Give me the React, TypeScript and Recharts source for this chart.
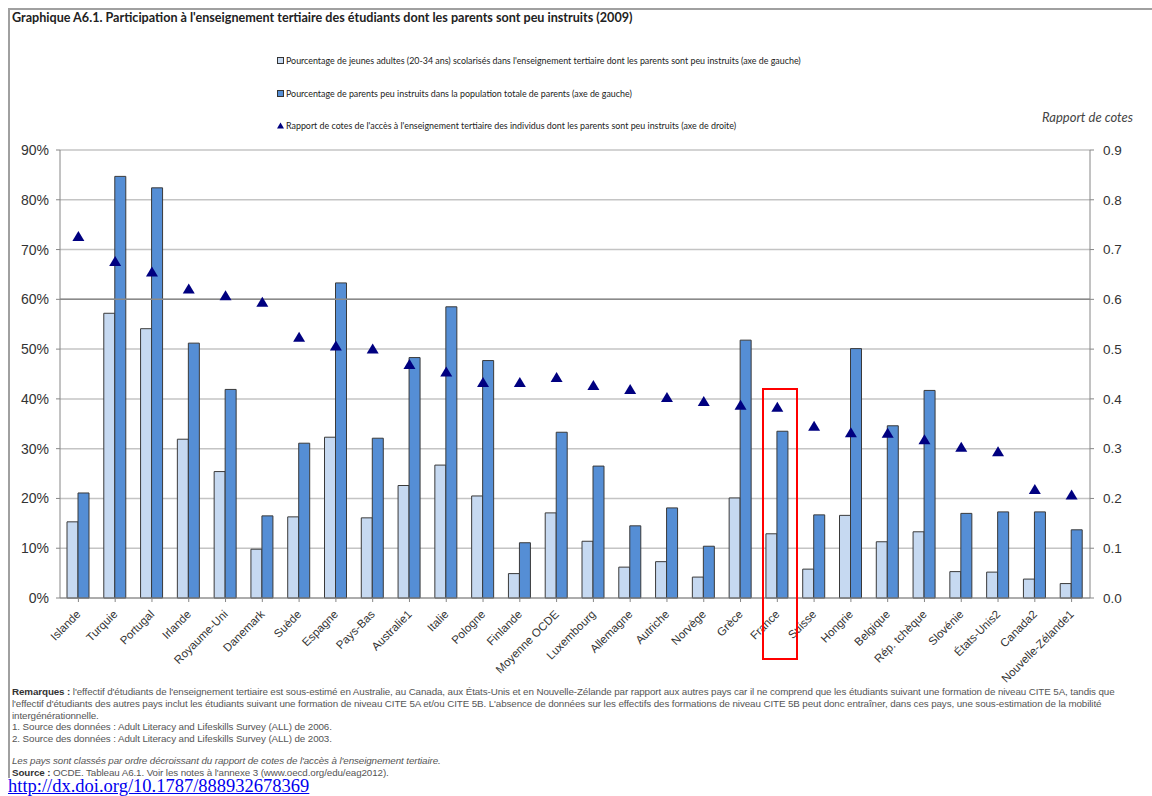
import {
  ComposedChart, Bar, Line, XAxis, YAxis,
  CartesianGrid, ReferenceLine,
} from "recharts";

// countries, ordered by decreasing odds ratio
const countries = [
  "Islande", "Turquie", "Portugal", "Irlande", "Royaume-Uni", "Danemark", "Suède",
  "Espagne", "Pays-Bas", "Australie1", "Italie", "Pologne", "Finlande", "Moyenne OCDE",
  "Luxembourg", "Allemagne", "Autriche", "Norvège", "Grèce", "France", "Suisse",
  "Hongrie", "Belgique", "Rép. tchèque", "Slovénie", "États-Unis2", "Canada2",
  "Nouvelle-Zélande1",
];

// % young adults (20-34) in tertiary education whose parents have low education
const youngAdults = [
  15.3, 57.2, 54.1, 31.9, 25.4, 9.8, 16.3, 32.3, 16.1, 22.6, 26.7, 20.5, 4.9, 17.1,
  11.4, 6.2, 7.3, 4.2, 20.1, 12.9, 5.8, 16.6, 11.3, 13.3, 5.3, 5.2, 3.8, 2.9,
];

// % parents with low education among all parents
const lowEduParents = [
  21.1, 84.7, 82.4, 51.2, 41.9, 16.5, 31.1, 63.3, 32.1, 48.3, 58.5, 47.7, 11.1, 33.3,
  26.5, 14.5, 18.1, 10.4, 51.8, 33.5, 16.7, 50.1, 34.6, 41.7, 17.0, 17.3, 17.3, 13.7,
];

// odds ratio (right axis)
const oddsRatio = [
  0.725, 0.675, 0.654, 0.62, 0.606, 0.593, 0.523, 0.505, 0.499, 0.468, 0.453, 0.432,
  0.432, 0.442, 0.426, 0.418, 0.402, 0.394, 0.386, 0.382, 0.344, 0.331, 0.33, 0.317,
  0.302, 0.293, 0.217, 0.206,
];

const leftTicks = [0, 10, 20, 30, 40, 50, 60, 70, 80, 90];
const rightTicks = [0, 0.1, 0.2, 0.3, 0.4, 0.5, 0.6, 0.7, 0.8, 0.9];

const legendLabels = [
  "Pourcentage de jeunes adultes (20-34 ans) scolarisés dans l'enseignement tertiaire dont les parents sont peu instruits (axe de gauche)",
  "Pourcentage de parents peu instruits dans la population totale de parents (axe de gauche)",
  "Rapport de cotes de l'accès à l'enseignement tertiaire des individus dont les parents sont peu instruits (axe de droite)",
];

const data = countries.map((c, i) => ({
  country: c,
  young: youngAdults[i],
  parents: lowEduParents[i],
  ratio: oddsRatio[i],
}));

const LIGHT = "#c6d9f1";
const DARK = "#558ed5";
const NAVY = "#000080";
const AXIS = "#868686";
const SANS = "'Liberation Sans', Arial, sans-serif";

const Triangle = (props: any) => {
  const { cx, cy } = props;
  if (cx == null || cy == null) return null;
  return (
    <polygon
      key={`t-${props.index}`}
      points={`${cx},${cy - 6} ${cx - 6},${cy + 4} ${cx + 6},${cy + 4}`}
      fill={NAVY}
    />
  );
};

const CountryTick = (props: any) => {
  const { x, y, payload } = props;
  return (
    <text
      x={x + 3}
      y={y + 11}
      textAnchor="end"
      fontSize={11.5}
      fontFamily={SANS}
      fill="#333"
      transform={`rotate(-45, ${x + 3}, ${y + 11})`}
    >
      {payload.value}
    </text>
  );
};

const noteLines = [
  { b: "Remarques :", t: " l'effectif d'étudiants de l'enseignement tertiaire est sous-estimé en Australie, au Canada, aux États-Unis et en Nouvelle-Zélande par rapport aux autres pays car il ne comprend que les étudiants suivant une formation de niveau CITE 5A, tandis que" },
  { b: "", t: "l'effectif d'étudiants des autres pays inclut les étudiants suivant une formation de niveau CITE 5A et/ou CITE 5B. L'absence de données sur les effectifs des formations de niveau CITE 5B peut donc entraîner, dans ces pays, une sous-estimation de la mobilité" },
  { b: "", t: "intergénérationnelle." },
  { b: "", t: "1. Source des données : Adult Literacy and Lifeskills Survey (ALL) de 2006." },
  { b: "", t: "2. Source des données : Adult Literacy and Lifeskills Survey (ALL) de 2003." },
];

export default function App() {
  return (
    <div style={{ position: "absolute", left: 0, top: 0, width: 1152, height: 796, background: "#fff", overflow: "hidden" }}>
      {/* frame */}
      <div style={{ position: "absolute", left: 8, top: 8, width: 1144, height: 768, borderTop: "2px solid #a0a0a0", borderLeft: "2px solid #a0a0a0" }} />

      <div style={{ position: "absolute", left: 12, top: 10, fontFamily: "Lato, sans-serif", fontWeight: 700, fontSize: 12.6, color: "#222", whiteSpace: "nowrap" }}>
        Graphique A6.1. Participation à l'enseignement tertiaire des étudiants dont les parents sont peu instruits (2009)
      </div>

      {/* legend */}
      {legendLabels.map((l, i) => (
        <div key={l} style={{ position: "absolute", left: 277, top: 55 + i * 32.5, display: "flex", alignItems: "center", fontFamily: "Lato, sans-serif", fontSize: 8.9, color: "#222", whiteSpace: "nowrap" }}>
          {i < 2 ? (
            <span style={{ display: "inline-block", width: 5, height: 5, background: i === 0 ? LIGHT : DARK, border: "1px solid #333", marginRight: 2 }} />
          ) : (
            <svg width={7} height={7} style={{ marginRight: 2 }}>
              <polygon points="3.5,0.5 0,6.5 7,6.5" fill={NAVY} />
            </svg>
          )}
          {l}
        </div>
      ))}

      <div style={{ position: "absolute", left: 1042, top: 109, fontFamily: "Lato, sans-serif", fontStyle: "italic", fontSize: 13, color: "#444" }}>
        Rapport de cotes
      </div>

      <div style={{ position: "absolute", left: 0, top: 0 }}>
        <ComposedChart
          width={1152}
          height={688}
          data={data}
          margin={{ top: 150, right: 0, bottom: 0, left: 0 }}
          barGap={0}
          barCategoryGap="24%"
        >
          <CartesianGrid yAxisId="left" vertical={false} stroke="#c4c4c4" strokeWidth={1.5} />
          <XAxis
            dataKey="country"
            interval={0}
            height={90}
            tick={<CountryTick />}
            tickLine={{ stroke: AXIS }}
            axisLine={{ stroke: AXIS }}
            tickSize={4}
          />
          <YAxis
            yAxisId="left"
            width={60}
            domain={[0, 90]}
            ticks={leftTicks}
            tickFormatter={(v) => `${v}%`}
            tick={{ fontSize: 14, fill: "#333", fontFamily: SANS }}
            axisLine={{ stroke: AXIS }}
            tickLine={{ stroke: AXIS }}
            tickSize={4}
            tickMargin={7}
          />
          <YAxis
            yAxisId="right"
            orientation="right"
            width={62}
            domain={[0, 0.9]}
            ticks={rightTicks}
            tickFormatter={(v) => Number(v).toFixed(1)}
            tick={{ fontSize: 13.5, fill: "#333", fontFamily: SANS }}
            axisLine={{ stroke: AXIS }}
            tickLine={{ stroke: AXIS }}
            tickSize={4}
            tickMargin={9}
          />
          <ReferenceLine yAxisId="left" y={60} stroke="#8a8a8a" strokeWidth={1.5} />
          <Bar yAxisId="left" dataKey="young" fill={LIGHT} stroke="#3a3a3a" strokeWidth={1} barSize={11} isAnimationActive={false} />
          <Bar yAxisId="left" dataKey="parents" fill={DARK} stroke="#3a3a3a" strokeWidth={1} barSize={11} isAnimationActive={false} />
          <Line yAxisId="right" dataKey="ratio" stroke="none" strokeWidth={0} dot={<Triangle />} activeDot={false} isAnimationActive={false} />
        </ComposedChart>
      </div>

      {/* highlight around France */}
      <div style={{ position: "absolute", left: 762, top: 388, width: 32, height: 268, border: "2.5px solid #ff0000" }} />

      {/* notes */}
      <div style={{ position: "absolute", left: 12, top: 686, fontFamily: SANS, fontSize: 9.8, color: "#555", lineHeight: "11.8px", whiteSpace: "nowrap", letterSpacing: -0.1 }}>
        {noteLines.map((n, i) => (
          <div key={i}>
            {n.b && <b style={{ color: "#333" }}>{n.b}</b>}
            {n.t}
          </div>
        ))}
        <div style={{ height: 10 }} />
        <div style={{ fontStyle: "italic" }}>Les pays sont classés par ordre décroissant du rapport de cotes de l'accès à l'enseignement tertiaire.</div>
        <div>
          <b style={{ color: "#333" }}>Source :</b> OCDE. Tableau A6.1. Voir les notes à l'annexe 3 (www.oecd.org/edu/eag2012).
        </div>
      </div>

      <a
        href="http://dx.doi.org/10.1787/888932678369"
        style={{ position: "absolute", left: 8, top: 776, fontFamily: "'Liberation Serif', serif", fontSize: 18.5, color: "#0000ee", lineHeight: "20px" }}
      >
        http://dx.doi.org/10.1787/888932678369
      </a>
    </div>
  );
}
